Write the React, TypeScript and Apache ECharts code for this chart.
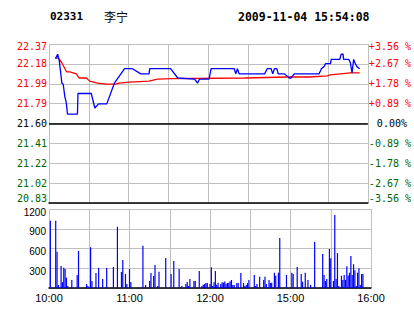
import React, { useEffect, useRef } from "react";
import * as echarts from "echarts";

// ---- data ----
const stockCode = "02331";
const stockName = "李宁";
const stampText = "2009-11-04 15:54:08";
const prevClose = 21.6;
const priceStep = 0.19224;

const priceLabels = ["20.83", "21.02", "21.22", "21.41", "21.60", "21.79", "21.99", "22.18", "22.37"];
const pctLabels = ["-3.56 %", "-2.67 %", "-1.78 %", "-0.89 %", "0.00%", "+0.89 %", "+1.78 %", "+2.67 %", "+3.56 %"];
const tickMinutes = [0, 60, 120, 180, 240];
const tickTimes = ["10:00", "11:00", "12:00", "15:00", "16:00"];

// price line (minute since open, price)
const priceMinutes = [5.0, 6.5, 7.7, 9.7, 10.7, 11.9, 12.7, 13.2, 13.9, 21.4, 21.8, 31.8, 34.5, 37.3, 43.5, 49.2, 56.9, 62.8, 69.1, 75.3, 75.8, 91.5, 96.9, 109.6, 111.8, 113.3, 120.5, 122, 139.4, 140.6, 141.8, 143.1, 162.3, 164.2, 167.2, 168.4, 169.7, 171.5, 172.5, 177.2, 180.9, 182.1, 184.6, 203.2, 204.4, 205, 207, 208.2, 211.9, 212.4, 218.9, 219.9, 221.4, 221.7, 225.6, 226.8, 227.3, 228.1, 229.3, 230.5, 231.8, 233.8];
const prices = [22.23, 22.27, 22.21, 21.99, 21.98, 21.86, 21.82, 21.78, 21.69, 21.69, 21.89, 21.89, 21.75, 21.79, 21.79, 21.99, 22.13, 22.13, 22.08, 22.08, 22.13, 22.13, 22.04, 22.03, 21.99, 22.03, 22.03, 22.13, 22.13, 22.08, 22.13, 22.08, 22.08, 22.13, 22.13, 22.08, 22.13, 22.13, 22.08, 22.08, 22.04, 22.04, 22.08, 22.08, 22.11, 22.13, 22.15, 22.18, 22.18, 22.22, 22.22, 22.27, 22.27, 22.22, 22.22, 22.19, 22.15, 22.09, 22.22, 22.18, 22.15, 22.13];

// average price line
const avgMinutes = [4.5, 6.9, 9.5, 13.2, 15.7, 20.6, 22.6, 28.1, 30.6, 36.7, 43, 50.5, 52.9, 60.4, 75.3, 81.5, 92.6, 147.3, 179.6, 195.8, 209.4, 211.9, 226.8, 233.8];
const avgPrices = [22.23, 22.235, 22.19, 22.1, 22.1, 22.08, 22.04, 22.04, 22.01, 21.99, 21.98, 21.98, 21.99, 22.0, 22.01, 22.03, 22.035, 22.04, 22.05, 22.05, 22.06, 22.07, 22.09, 22.09];

// volume bars
const volMinutes = [1, 5, 6, 7, 9, 10, 11, 12, 13, 14, 17, 21, 22, 28, 29, 31, 32, 35, 37, 40, 43, 48, 51, 54, 55, 57, 58, 60, 61, 70, 72, 75, 76, 78, 79, 81, 82, 87, 91, 93, 97, 99, 102, 103, 104, 105, 108, 109, 112, 114, 115, 116, 117, 118, 120, 121, 122, 123, 124, 125, 126, 128, 129, 130, 131, 132, 133, 134, 135, 136, 137, 138, 140, 141, 143, 145, 146, 147, 148, 149, 153, 154, 155, 157, 160, 161, 162, 164, 165, 166, 168, 169, 171, 172, 177, 181, 182, 185, 188, 189, 191, 193, 195, 198, 204, 205, 206, 207, 209, 210, 212, 213, 214, 215, 216, 218, 219, 220, 221, 222, 223, 224, 225, 226, 227, 228, 229, 230, 231, 232, 233, 234];
const volumes = [1020, 1020, 550, 45, 334, 90, 309, 289, 157, 30, 122, 197, 562, 61, 30, 620, 106, 228, 304, 137, 304, 319, 930, 243, 425, 213, 61, 289, 90, 640, 45, 106, 228, 182, 349, 30, 245, 455, 213, 410, 289, 30, 61, 93, 30, 137, 106, 106, 258, 30, 50, 61, 76, 76, 61, 316, 30, 88, 258, 50, 80, 61, 86, 81, 100, 61, 76, 81, 101, 122, 45, 45, 76, 76, 228, 76, 30, 45, 76, 122, 197, 30, 61, 172, 122, 172, 61, 122, 76, 81, 233, 187, 233, 760, 197, 233, 213, 319, 213, 96, 233, 122, 45, 699, 516, 197, 106, 137, 592, 453, 106, 1109, 137, 530, 30, 185, 122, 197, 122, 330, 190, 233, 486, 197, 362, 270, 30, 233, 300, 45, 213, 213];

const RED = "#ff0000";
const GREEN = "#006600";
const BLUE = "#0000ff";
const GRID = "#c0c0c0";
const MONO = '"DejaVu Sans Mono", monospace';
const SANS = '"Liberation Sans", Arial, sans-serif';

const norm = (p: number) => (p - prevClose) / priceStep;

export default function App() {
  const ref = useRef<HTMLDivElement>(null);
  useEffect(() => {
    if (!ref.current) return;
    const chart = echarts.init(ref.current, undefined, { renderer: "svg" });

    const priceData = priceMinutes.map((m, i) => [m, norm(prices[i])]);
    const avgData = avgMinutes.map((m, i) => [m, norm(avgPrices[i])]);
    const volData = volMinutes.map((m, i) => [m, volumes[i]]);

    const leftStyle = (i: number) => (i === 8 ? "rt" : i > 4 ? "r" : i === 4 ? "k" : i === 0 ? "gb" : "g");
    const richBase = { fontFamily: MONO, fontSize: 10 };
    const rich = {
      r: { ...richBase, color: RED },
      rt: { ...richBase, color: RED, padding: [4, 0, 0, 0] },
      k: { ...richBase, color: "#000" },
      k0: { ...richBase, color: "#000", padding: [0, 0, 0, 8] },
      g: { ...richBase, color: GREEN },
      gb: { ...richBase, color: GREEN, padding: [0, 0, 10, 0] },
    };

    const xCommon = {
      type: "value",
      min: 0,
      max: 240,
      interval: 30,
      axisTick: { show: false },
      splitLine: { show: true, lineStyle: { color: GRID, width: 1 } },
    };

    chart.setOption({
      animation: false,
      backgroundColor: "#fff",
      graphic: [
        { type: "text", x: 50, y: 16.5, style: { text: stockCode, font: `bold 11px ${MONO}`, fill: "#000", verticalAlign: "middle", align: "left" } },
        { type: "text", x: 104, y: 16, style: { text: stockName, font: '12px "Noto Sans CJK SC"', fill: "#000", verticalAlign: "middle", align: "left" } },
        { type: "text", x: 238, y: 16.5, style: { text: stampText, font: `bold 11.5px ${MONO}`, fill: "#000", verticalAlign: "middle", align: "left" } },
      ],
      grid: [
        { left: 49, right: 43, top: 44, height: 159 },
        { left: 49, right: 43, top: 209, height: 79 },
      ],
      xAxis: [
        {
          ...xCommon,
          gridIndex: 0,
          axisLabel: { show: false },
          axisLine: { show: true, onZero: false, lineStyle: { color: "#000", width: 1.5 } },
        },
        {
          ...xCommon,
          gridIndex: 1,
          axisLine: { show: true, lineStyle: { color: "#000", width: 1.5 } },
          axisLabel: {
            show: true,
            margin: 4,
            fontFamily: SANS,
            fontSize: 11,
            color: "#000",
            formatter: (v: number) => {
              const i = tickMinutes.indexOf(Math.round(v));
              return i >= 0 ? tickTimes[i] : "";
            },
          },
        },
      ],
      yAxis: [
        {
          type: "value",
          gridIndex: 0,
          min: -4,
          max: 4,
          interval: 1,
          axisLine: { show: false },
          axisTick: { show: false },
          splitLine: { show: true, lineStyle: { color: GRID, width: 1 } },
          axisLabel: {
            margin: 2,
            formatter: (v: number) => {
              const i = Math.round(v) + 4;
              return `{${leftStyle(i)}|${priceLabels[i]}}`;
            },
            rich,
          },
        },
        {
          type: "value",
          gridIndex: 0,
          position: "right",
          min: -4,
          max: 4,
          interval: 1,
          axisLine: { show: false },
          axisTick: { show: false },
          splitLine: { show: false },
          axisLabel: {
            margin: 1,
            align: "left",
            formatter: (v: number) => {
              const i = Math.round(v) + 4;
              const s = i === 4 ? "k0" : leftStyle(i);
              return `{${s}|${pctLabels[i]}}`;
            },
            rich,
          },
        },
        {
          type: "value",
          gridIndex: 1,
          min: 0,
          max: 1200,
          interval: 300,
          axisLine: { show: false },
          axisTick: { show: false },
          splitLine: { show: true, lineStyle: { color: GRID, width: 1 } },
          axisLabel: {
            margin: 3,
            formatter: (v: number) => (v === 0 ? "" : `{v|${v}}`),
            rich: { v: { fontFamily: SANS, fontSize: 10, color: "#000", padding: [6, 0, 0, 0] } },
          },
        },
      ],
      series: [
        {
          type: "line",
          xAxisIndex: 0,
          yAxisIndex: 0,
          data: avgData,
          symbol: "none",
          lineStyle: { color: RED, width: 1.3 },
          silent: true,
          z: 3,
        },
        {
          type: "line",
          xAxisIndex: 0,
          yAxisIndex: 0,
          data: priceData,
          symbol: "none",
          lineStyle: { color: BLUE, width: 1.3 },
          silent: true,
          z: 4,
          markLine: {
            silent: true,
            symbol: "none",
            label: { show: false },
            lineStyle: { color: "#000", width: 1.5, type: "solid" },
            data: [{ yAxis: 0 }],
          },
        },
        {
          type: "bar",
          xAxisIndex: 1,
          yAxisIndex: 2,
          data: volData,
          barWidth: 1.2,
          itemStyle: { color: BLUE },
          silent: true,
        },
      ],
    });
    return () => chart.dispose();
  }, []);
  return <div ref={ref} style={{ position: "fixed", left: 0, top: 0, width: 414, height: 314, background: "#fff" }} />;
}
